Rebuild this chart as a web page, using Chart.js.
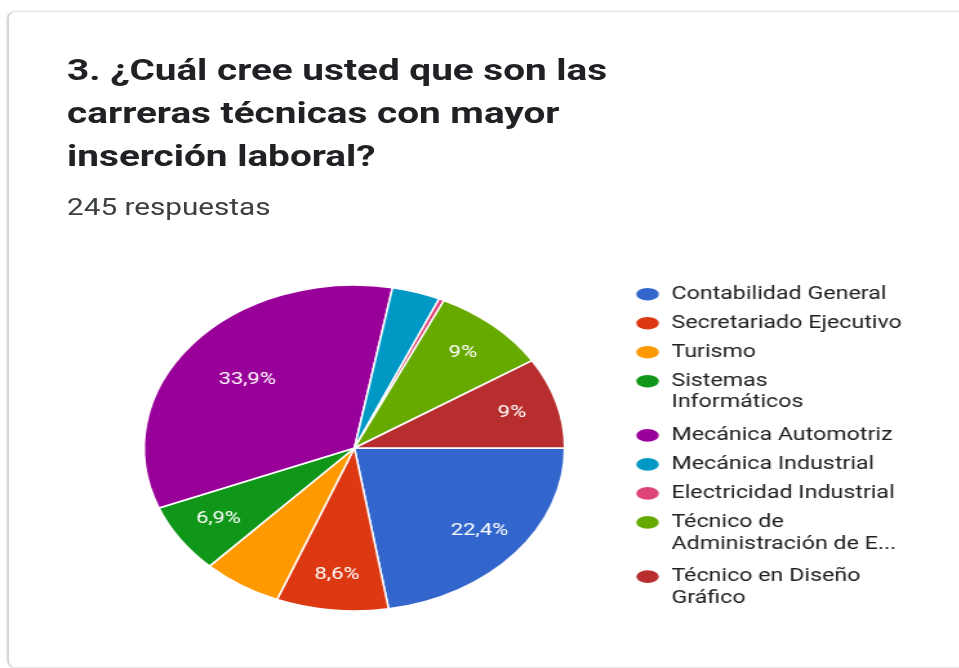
<!DOCTYPE html>
<html lang="es">
<head>
<meta charset="utf-8">
<title>Carreras técnicas con mayor inserción laboral</title>
<script src="https://cdn.jsdelivr.net/npm/chart.js@4/dist/chart.umd.min.js"></script>
<style>
  html, body { margin: 0; padding: 0; background: #fff; overflow: hidden; }
  body { width: 959px; height: 668px; position: relative; font-family: Roboto, "Noto Sans", sans-serif; }
  #card {
    position: absolute; left: 7px; top: 11px; width: 1100px; height: 655px;
    border: 1px solid #e3e3e3; border-left: 2px solid #d6d6d6; border-radius: 8px;
    box-shadow: -1px 0 2px rgba(0,0,0,0.08);
  }
  /* the whole card content is drawn narrow and widened horizontally */
  #stage {
    position: absolute; left: 0; top: 0; width: 743px; height: 668px;
    transform: scaleX(1.29); transform-origin: 0 0;
  }
  #title {
    position: absolute; left: 52px; top: 48px; margin: 0;
    font-size: 30px; line-height: 43px; font-weight: 700; color: #202124;
  }
  #sub {
    position: absolute; left: 52px; top: 194px;
    font-size: 23px; line-height: 28px; color: #3c4043;
  }
  #chartBox { position: absolute; left: 0; top: 260px; width: 743px; height: 380px; }
</style>
</head>
<body>
<div id="card"></div>
<div id="stage">
  <h1 id="title">3. ¿Cuál cree usted que son las<br>carreras técnicas con mayor<br>inserción laboral?</h1>
  <div id="sub">245 respuestas</div>
  <div id="chartBox"><canvas id="pie"></canvas></div>
</div>
<script>
const categories = [
  'Contabilidad General',
  'Secretariado Ejecutivo',
  'Turismo',
  ['Sistemas', 'Informáticos'],
  'Mecánica Automotriz',
  'Mecánica Industrial',
  'Electricidad Industrial',
  ['Técnico de', 'Administración de E...'],
  ['Técnico en Diseño', 'Gráfico']
];
// share of the 245 answers, in percent
const percentages = [22.4, 8.6, 6.1, 6.9, 33.9, 3.7, 0.4, 9, 9];
const sliceColors = ['#3366cc', '#dc3912', '#ff9900', '#109618', '#990099', '#0099c6', '#dd4477', '#66aa00', '#b82e2e'];

// percentage text inside the slices that are wide enough
const sliceLabels = {
  id: 'sliceLabels',
  afterDatasetsDraw(chart) {
    const ctx = chart.ctx;
    const meta = chart.getDatasetMeta(0);
    ctx.save();
    ctx.font = '17px Roboto, sans-serif';
    ctx.fillStyle = '#ffffff';
    ctx.textAlign = 'center';
    ctx.textBaseline = 'middle';
    meta.data.forEach((arc, i) => {
      const v = percentages[i];
      if (v < 6.5) return;
      const p = arc.getProps(['x', 'y', 'startAngle', 'endAngle', 'outerRadius'], true);
      const mid = (p.startAngle + p.endAngle) / 2;
      const r = p.outerRadius * (v > 30 ? 0.66 : 0.78);
      ctx.fillText(String(v).replace('.', ',') + '%', p.x + Math.cos(mid) * r, p.y + Math.sin(mid) * r);
    });
    ctx.restore();
  }
};

new Chart(document.getElementById('pie'), {
  type: 'pie',
  data: {
    labels: categories,
    datasets: [{
      data: percentages,
      backgroundColor: sliceColors,
      borderColor: '#ffffff',
      borderWidth: 1.5
    }]
  },
  options: {
    responsive: true,
    maintainAspectRatio: false,
    animation: false,
    rotation: 90,
    radius: 163,
    layout: { padding: { left: 68, right: 34, top: 0, bottom: 4 } },
    plugins: {
      tooltip: { enabled: false },
      legend: {
        position: 'right',
        labels: {
          usePointStyle: true,
          pointStyle: 'circle',
          pointStyleWidth: 19,
          boxHeight: 10,
          padding: 11,
          color: '#202124',
          font: { family: 'Roboto, sans-serif', size: 18, lineHeight: 1.2 }
        }
      }
    }
  },
  plugins: [sliceLabels]
});
</script>
</body>
</html>
